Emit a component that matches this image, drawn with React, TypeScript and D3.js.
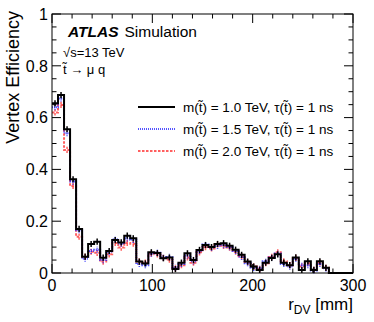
import * as d3 from 'd3';
import React, { useRef, useEffect } from 'react';

// r_DV bins: 6 mm wide from 0 to 300 mm
const binLow = d3.range(0, 300, 6);
const binWidth = 6;

// vertex efficiency per bin
const effM10 = [
  0.655, 0.687, 0.555, 0.362, 0.170, 0.063, 0.112, 0.121, 0.059, 0.085,
  0.127, 0.118, 0.144, 0.134, 0.044, 0.037, 0.080, 0.077, 0.057, 0.060,
  0.015, 0.040, 0.076, 0.050, 0.089, 0.108, 0.100, 0.112, 0.115, 0.105,
  0.090, 0.070, 0.044, 0.025, 0.012, 0.040, 0.058, 0.072, 0.040, 0.030,
  0.060, 0.012, 0.045, 0.012, 0.045, 0.020, 0, 0, 0, 0,
];
const effM15 = [
  0.640, 0.674, 0.540, 0.353, 0.165, 0.055, 0.085, 0.090, 0.050, 0.082,
  0.130, 0.113, 0.134, 0.128, 0.035, 0.030, 0.075, 0.078, 0.060, 0.062,
  0.020, 0.035, 0.068, 0.045, 0.085, 0.110, 0.098, 0.105, 0.108, 0.100,
  0.085, 0.062, 0.038, 0.020, 0.018, 0.045, 0.060, 0.075, 0.035, 0.025,
  0.055, 0.030, 0.030, 0.010, 0.035, 0.018, 0, 0, 0, 0,
];
const effM20 = [
  0.620, 0.649, 0.475, 0.336, 0.140, 0.062, 0.082, 0.078, 0.044, 0.072,
  0.116, 0.098, 0.116, 0.113, 0.044, 0.040, 0.075, 0.072, 0.058, 0.052,
  0.018, 0.030, 0.060, 0.040, 0.080, 0.100, 0.095, 0.110, 0.105, 0.098,
  0.082, 0.065, 0.042, 0.025, 0.015, 0.038, 0.062, 0.080, 0.045, 0.030,
  0.058, 0.025, 0.038, 0.012, 0.040, 0.020, 0, 0, 0, 0,
];

const seriesLabels = [
  'm(t\u0303) = 1.0 TeV, \u03C4(t\u0303) = 1 ns',
  'm(t\u0303) = 1.5 TeV, \u03C4(t\u0303) = 1 ns',
  'm(t\u0303) = 2.0 TeV, \u03C4(t\u0303) = 1 ns',
];
const xMajor = [0, 100, 200, 300];
const yMajor = [0, 0.2, 0.4, 0.6, 0.8, 1];

const FONT = '"Liberation Sans", Arial, Helvetica, sans-serif';

export default function App() {
  const ref = useRef<SVGSVGElement>(null);
  const width = 374;
  const height = 322;

  useEffect(() => {
    const svg = d3.select(ref.current);
    svg.selectAll('*').remove();

    const x = d3.scaleLinear().domain([0, 300]).range([52, 353]);
    const y = d3.scaleLinear().domain([0, 1]).range([273, 14]);

    const series = [
      { values: effM10, color: '#000000', dash: null, err: 0.012 },
      { values: effM15, color: '#1a1aff', dash: '1,1', err: 0.012 },
      { values: effM20, color: '#ff2a2a', dash: '2.5,1.5', err: 0.012 },
    ];

    const line = d3.line<[number, number]>().x(d => x(d[0])).y(d => y(d[1]));

    // histograms (drawn back to front)
    [...series].reverse().forEach(s => {
      const pts: [number, number][] = [];
      binLow.forEach((lo, i) => {
        pts.push([lo, s.values[i]]);
        pts.push([lo + binWidth, s.values[i]]);
      });
      const g = svg.append('g');
      g.append('path')
        .attr('d', line(pts))
        .attr('fill', 'none')
        .attr('stroke', s.color)
        .attr('stroke-width', 2)
        .attr('stroke-dasharray', s.dash)
        .attr('opacity', s.dash ? 0.75 : 1);
      g.selectAll('line')
        .data(binLow.filter((_, i) => s.values[i] > 0))
        .join('line')
        .attr('x1', d => x(d + binWidth / 2))
        .attr('x2', d => x(d + binWidth / 2))
        .attr('y1', d => y(s.values[binLow.indexOf(d)] - s.err))
        .attr('y2', d => y(s.values[binLow.indexOf(d)] + s.err))
        .attr('stroke', s.color)
        .attr('stroke-width', 1.5)
        .attr('stroke-dasharray', s.dash)
        .attr('opacity', s.dash ? 0.75 : 1);
    });

    // frame
    svg.append('rect')
      .attr('x', x(0)).attr('y', y(1))
      .attr('width', x(300) - x(0)).attr('height', y(0) - y(1))
      .attr('fill', 'none').attr('stroke', '#000').attr('stroke-width', 1);

    const ticks = svg.append('g').attr('stroke', '#000').attr('stroke-width', 1);
    const xMinor = d3.range(0, 301, 20);
    xMinor.forEach(v => {
      const len = xMajor.includes(v) ? 9 : 4.5;
      ticks.append('line').attr('x1', x(v)).attr('x2', x(v)).attr('y1', y(0)).attr('y2', y(0) - len);
      ticks.append('line').attr('x1', x(v)).attr('x2', x(v)).attr('y1', y(1)).attr('y2', y(1) + len);
    });
    const yMinor = d3.range(0, 1.0001, 0.05);
    yMinor.forEach(v => {
      const major = yMajor.some(m => Math.abs(m - v) < 1e-6);
      const len = major ? 9 : 4.5;
      ticks.append('line').attr('x1', x(0)).attr('x2', x(0) + len).attr('y1', y(v)).attr('y2', y(v));
      ticks.append('line').attr('x1', x(300)).attr('x2', x(300) - len).attr('y1', y(v)).attr('y2', y(v));
    });

    // tick labels
    svg.append('g')
      .selectAll('text')
      .data(yMajor)
      .join('text')
      .attr('x', 48)
      .attr('y', d => y(d))
      .attr('dy', '0.36em')
      .attr('text-anchor', 'end')
      .attr('font-family', FONT)
      .attr('font-size', 16)
      .text(d => (d === 0 || d === 1 ? String(d) : d.toFixed(1)));

    svg.append('g')
      .selectAll('text')
      .data(xMajor)
      .join('text')
      .attr('x', d => x(d))
      .attr('y', 291)
      .attr('text-anchor', 'middle')
      .attr('font-family', FONT)
      .attr('font-size', 16)
      .text(d => String(d));

    // axis titles
    svg.append('text')
      .attr('transform', `translate(19,${y(1) - 3}) rotate(-90)`)
      .attr('text-anchor', 'end')
      .attr('font-family', FONT)
      .attr('font-size', 18)
      .text('Vertex Efficiency');

    const xt = svg.append('text')
      .attr('x', x(300))
      .attr('y', 310)
      .attr('text-anchor', 'end')
      .attr('font-family', FONT)
      .attr('font-size', 17);
    xt.append('tspan').text('r');
    xt.append('tspan').attr('font-size', 12).attr('dy', 4).text('DV');
    xt.append('tspan').attr('dy', -4).text(' [mm]');

    // ATLAS label
    const atl = svg.append('text')
      .attr('x', 68).attr('y', 37)
      .attr('font-family', FONT)
      .attr('font-size', 15.5);
    atl.append('tspan').attr('font-weight', 'bold').attr('font-style', 'italic').text('ATLAS');
    atl.append('tspan').attr('dx', 6).text('Simulation');

    svg.append('text')
      .attr('x', 63).attr('y', 57)
      .attr('font-family', FONT)
      .attr('font-size', 13)
      .text('\u221As=13 TeV');
    svg.append('text')
      .attr('x', 63).attr('y', 74)
      .attr('font-family', FONT)
      .attr('font-size', 13)
      .text('t\u0303 \u2192 \u03BC q');

    // legend
    const leg = svg.append('g');
    series.forEach((s, i) => {
      const ly = 107 + i * 22;
      leg.append('line')
        .attr('x1', 138).attr('x2', 175)
        .attr('y1', ly).attr('y2', ly)
        .attr('stroke', s.color)
        .attr('stroke-width', 2)
        .attr('stroke-dasharray', s.dash)
        .attr('opacity', s.dash ? 0.75 : 1);
      leg.append('text')
        .attr('x', 183).attr('y', ly)
        .attr('dy', '0.36em')
        .attr('font-family', FONT)
        .attr('font-size', 13.5)
        .text(seriesLabels[i]);
    });
  }, []);

  return (
    <svg
      ref={ref}
      width={width}
      height={height}
      style={{ position: 'absolute', left: 0, top: 0, background: '#fff' }}
    />
  );
}
